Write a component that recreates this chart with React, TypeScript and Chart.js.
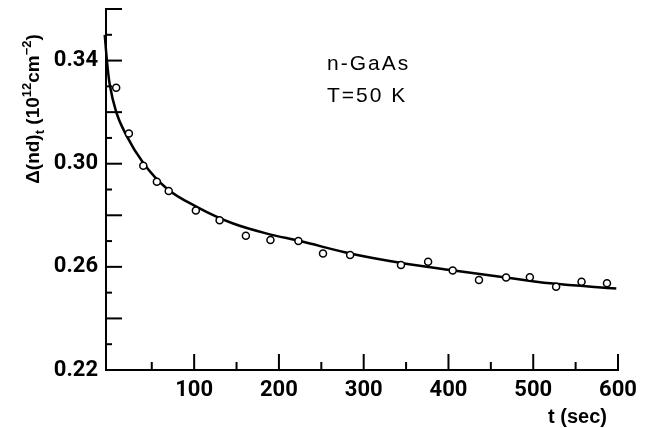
import React, { useEffect, useRef } from "react";
import { Chart, registerables } from "chart.js";

Chart.register(...registerables);

// Measured points: time (sec) and Δ(nd)_t (10^12 cm^-2)
const pointTimes = [8, 23, 40, 56, 70, 102, 130, 161, 190, 223, 252, 284, 344, 376, 405, 436, 468, 496, 527, 557, 587];
const pointValues = [0.3295, 0.3117, 0.2992, 0.293, 0.2894, 0.2819, 0.2781, 0.2721, 0.2704, 0.27, 0.2652, 0.2646, 0.2607, 0.262, 0.2586, 0.2549, 0.2559, 0.256, 0.2523, 0.2542, 0.2536];

// Fitted curve
const curveTimes = [-5.5, -4, -2, 0.5, 8, 20, 40, 68, 103, 146, 186, 225, 284, 343, 402, 461, 520, 598];
const curveValues = [0.35, 0.344, 0.337, 0.3305, 0.3201, 0.311, 0.3003, 0.2903, 0.2833, 0.2768, 0.2729, 0.27, 0.2652, 0.2616, 0.2588, 0.2562, 0.2536, 0.2516];

const xLabelTicks = [100, 200, 300, 400, 500, 600];
const xMajorTicks = [100, 200, 300, 400, 500, 600];
const xMinorTicks = [50, 150, 250, 350, 450, 550];
const yLabelTicks = [0.22, 0.26, 0.3, 0.34];
const yMajorTicks = [0.24, 0.26, 0.28, 0.3, 0.32, 0.34, 0.36];
const yMinorTicks = [0.23, 0.25, 0.27, 0.29, 0.31, 0.33, 0.35];

const annotationLines = ["n-GaAs", "T=50 K"];
const xTitle = "t (sec)";
const yTitleParts: { text: string; kind: "n" | "sub" | "sup" }[] = [
  { text: "Δ(nd)", kind: "n" },
  { text: "t", kind: "sub" },
  { text: " (10", kind: "n" },
  { text: "12", kind: "sup" },
  { text: "cm", kind: "n" },
  { text: "−2", kind: "sup" },
  { text: ")", kind: "n" },
];

const TICK_FONT = "Roboto, 'Liberation Sans', sans-serif";
const TEXT_FONT = "'Liberation Sans', 'DejaVu Sans', sans-serif";

const inkPlugin = {
  id: "ink",
  afterDraw(chart: any) {
    const { ctx, chartArea, scales } = chart;
    const x = scales.x;
    const y = scales.y;
    ctx.save();
    ctx.strokeStyle = "#000";
    ctx.fillStyle = "#000";
    ctx.lineWidth = 2;
    const bottom = chartArea.bottom;
    const left = chartArea.left;
    const seg = (x1: number, y1: number, x2: number, y2: number) => {
      ctx.beginPath();
      ctx.moveTo(x1, y1);
      ctx.lineTo(x2, y2);
      ctx.stroke();
    };
    xMajorTicks.forEach((v) => {
      const p = x.getPixelForValue(v);
      seg(p, bottom, p, bottom - 16);
    });
    xMinorTicks.forEach((v) => {
      const p = x.getPixelForValue(v);
      seg(p, bottom, p, bottom - 8);
    });
    yMajorTicks.forEach((v) => {
      const p = y.getPixelForValue(v);
      seg(left, p, left + 16, p);
    });
    yMinorTicks.forEach((v) => {
      const p = y.getPixelForValue(v);
      seg(left, p, left + 6, p);
    });

    // annotation
    ctx.font = `21px ${TEXT_FONT}`;
    (ctx as any).letterSpacing = "2px";
    ctx.textBaseline = "middle";
    ctx.textAlign = "left";
    ctx.fillText(annotationLines[0], 327, 64);
    ctx.fillText(annotationLines[1], 327, 96);
    (ctx as any).letterSpacing = "0px";

    // x title
    ctx.font = `bold 20px ${TEXT_FONT}`;
    ctx.textAlign = "right";
    ctx.textBaseline = "middle";
    ctx.fillText(xTitle, 607, 417);

    // y title rotated
    ctx.save();
    ctx.translate(32, 109);
    ctx.rotate(-Math.PI / 2);
    const mainFont = `bold 19px ${TEXT_FONT}`;
    const smallFont = `bold 13px ${TEXT_FONT}`;
    let total = 0;
    yTitleParts.forEach((p) => {
      ctx.font = p.kind === "n" ? mainFont : smallFont;
      total += ctx.measureText(p.text).width;
    });
    let cx = -total / 2;
    ctx.textAlign = "left";
    ctx.textBaseline = "alphabetic";
    yTitleParts.forEach((p) => {
      ctx.font = p.kind === "n" ? mainFont : smallFont;
      const dy = p.kind === "sub" ? 5 : p.kind === "sup" ? -8 : 0;
      ctx.fillText(p.text, cx, 7 + dy);
      cx += ctx.measureText(p.text).width;
    });
    ctx.restore();

    ctx.restore();
  },
};

export default function App() {
  const ref = useRef<HTMLCanvasElement | null>(null);
  useEffect(() => {
    if (!ref.current) return;
    const chart = new Chart(ref.current, {
      type: "scatter",
      data: {
        datasets: [
          {
            label: "points",
            data: pointTimes.map((t, i) => ({ x: t, y: pointValues[i] })),
            showLine: false,
            pointRadius: 3.5,
            pointBorderWidth: 1.5,
            pointBackgroundColor: "#fff",
            pointBorderColor: "#000",
          },
          {
            label: "fit",
            data: curveTimes.map((t, i) => ({ x: t, y: curveValues[i] })),
            showLine: true,
            borderColor: "#000",
            borderWidth: 2.5,
            pointRadius: 0,
            cubicInterpolationMode: "monotone",
            clip: false as any,
          },
        ],
      },
      options: {
        animation: false,
        responsive: false,
        maintainAspectRatio: false,
        layout: { padding: { top: 9, right: 32, left: 0, bottom: 0 } },
        plugins: { legend: { display: false }, tooltip: { enabled: false } },
        scales: {
          x: {
            type: "linear",
            min: -4,
            max: 600,
            afterBuildTicks: (s: any) => {
              s.ticks = xLabelTicks.map((v) => ({ value: v }));
            },
            afterFit: (s: any) => {
              s.height = 58;
              s.paddingLeft = 0;
              s.paddingRight = 0;
            },
            grid: { display: true, drawOnChartArea: false, drawTicks: false },
            border: { display: true, color: "#000", width: 2 },
            ticks: {
              color: "#000",
              padding: 7,
              font: { family: TICK_FONT, size: 22, weight: "bold" },
              callback: (v: any) => String(v),
              maxRotation: 0,
            },
          },
          y: {
            type: "linear",
            min: 0.22,
            max: 0.36,
            afterBuildTicks: (s: any) => {
              s.ticks = yLabelTicks.map((v) => ({ value: v }));
            },
            afterFit: (s: any) => {
              s.width = 106;
              s.paddingTop = 0;
              s.paddingBottom = 0;
            },
            grid: { display: true, drawOnChartArea: false, drawTicks: false },
            border: { display: true, color: "#000", width: 2 },
            ticks: {
              color: "#000",
              padding: 8,
              font: { family: TICK_FONT, size: 22, weight: "bold" },
              callback: (v: any) => Number(v).toFixed(2),
            },
          },
        },
      },
      plugins: [inkPlugin],
    });
    return () => chart.destroy();
  }, []);
  return (
    <div style={{ position: "fixed", left: 0, top: 0, width: 650, height: 428, background: "#fff" }}>
      <canvas ref={ref} width={650} height={428} style={{ width: 650, height: 428 }} />
    </div>
  );
}
